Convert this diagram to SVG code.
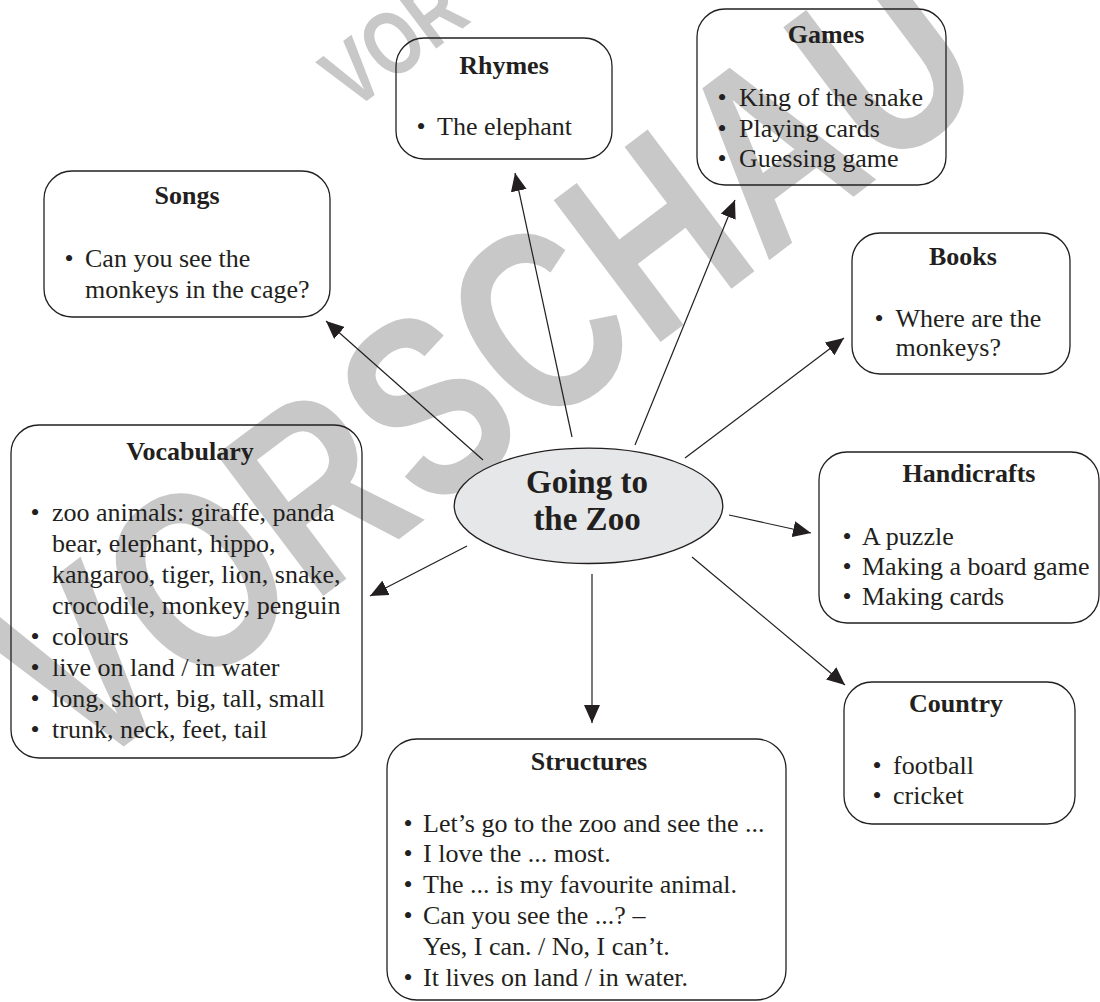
<svg xmlns="http://www.w3.org/2000/svg" width="1100" height="1002" viewBox="0 0 1100 1002">
<style>
.wm{font-family:"Liberation Sans",Arial,sans-serif;font-weight:bold;fill:#c8c8c8}
.box{fill:none;stroke:#231f20;stroke-width:1.3}
.h{font-family:"Liberation Serif","Times New Roman",serif;font-weight:bold;font-size:26px;fill:#231f20;text-anchor:middle}
.t{font-family:"Liberation Serif","Times New Roman",serif;font-size:26px;fill:#231f20}
.b{font-family:"Liberation Serif","Times New Roman",serif;font-size:26px;fill:#231f20;text-anchor:middle}
.c{font-family:"Liberation Serif","Times New Roman",serif;font-weight:bold;font-size:33px;fill:#231f20;text-anchor:middle}
.ln{stroke:#231f20;stroke-width:1.2;fill:none;marker-end:url(#ah)}
</style>
<defs>
<marker id="ah" viewBox="0 0 18 16" refX="18" refY="8" markerWidth="18" markerHeight="16" markerUnits="userSpaceOnUse" orient="auto">
<path d="M0,0 L18,8 L0,16 Z" fill="#231f20"/>
</marker>
</defs>
<rect width="1100" height="1002" fill="#ffffff"/>
<g id="watermark">
<text class="wm" font-size="258" transform="translate(82,778) rotate(-37) scale(0.775,1)">VORSCHAU</text>
<text class="wm" font-size="90" transform="translate(352,112) rotate(-37) scale(0.775,1)">VOR</text>
</g>
<g id="connectors">
<line class="ln" x1="483" y1="460" x2="326" y2="321"/>
<line class="ln" x1="572" y1="437" x2="515" y2="173"/>
<line class="ln" x1="635" y1="445" x2="735" y2="200"/>
<line class="ln" x1="685" y1="458" x2="844" y2="338"/>
<line class="ln" x1="729" y1="515" x2="811" y2="533"/>
<line class="ln" x1="692" y1="557" x2="845" y2="685"/>
<line class="ln" x1="592" y1="574" x2="592" y2="723"/>
<line class="ln" x1="467" y1="546" x2="370" y2="596"/>
</g>
<g id="center">
<ellipse cx="588.5" cy="505.8" rx="134.3" ry="57.7" fill="#e6e7e8" stroke="#231f20" stroke-width="1.3"/>
<text class="c" x="587" y="493">Going to</text>
<text class="c" x="587" y="530">the Zoo</text>
</g>
<g id="songs">
<rect class="box" x="44" y="171" width="286" height="146" rx="28"/>
<text class="h" x="187" y="204">Songs</text>
<text class="b" x="69" y="266.5">•</text><text class="t" x="85" y="266.5">Can you see the</text>
<text class="t" x="85" y="298">monkeys in the cage?</text>
</g>
<g id="rhymes">
<rect class="box" x="396" y="38" width="216" height="121" rx="28"/>
<text class="h" x="504" y="74">Rhymes</text>
<text class="b" x="421" y="135">•</text><text class="t" x="437" y="135">The elephant</text>
</g>
<g id="games">
<rect class="box" x="697" y="9" width="249" height="176" rx="28"/>
<text class="h" x="826" y="43">Games</text>
<text class="b" x="722" y="106">•</text><text class="t" x="739" y="106">King of the snake</text>
<text class="b" x="722" y="136.5">•</text><text class="t" x="739" y="136.5">Playing cards</text>
<text class="b" x="722" y="167">•</text><text class="t" x="739" y="167">Guessing game</text>
</g>
<g id="books">
<rect class="box" x="852" y="233" width="218" height="141" rx="28"/>
<text class="h" x="963" y="265">Books</text>
<text class="b" x="879" y="326.5">•</text><text class="t" x="895.5" y="326.5">Where are the</text>
<text class="t" x="895.5" y="356">monkeys?</text>
</g>
<g id="vocabulary">
<rect class="box" x="11" y="425" width="351" height="333" rx="28"/>
<text class="h" x="190" y="460">Vocabulary</text>
<text class="b" x="35" y="521">•</text><text class="t" x="52" y="521">zoo animals: giraffe, panda</text>
<text class="t" x="52" y="552">bear, elephant, hippo,</text>
<text class="t" x="52" y="583">kangaroo, tiger, lion, snake,</text>
<text class="t" x="52" y="614">crocodile, monkey, penguin</text>
<text class="b" x="35" y="645">•</text><text class="t" x="52" y="645">colours</text>
<text class="b" x="35" y="676">•</text><text class="t" x="52" y="676">live on land / in water</text>
<text class="b" x="35" y="707">•</text><text class="t" x="52" y="707">long, short, big, tall, small</text>
<text class="b" x="35" y="738">•</text><text class="t" x="52" y="738">trunk, neck, feet, tail</text>
</g>
<g id="handicrafts">
<rect class="box" x="819" y="452" width="280" height="171" rx="28"/>
<text class="h" x="969" y="482">Handicrafts</text>
<text class="b" x="847" y="545">•</text><text class="t" x="862" y="545">A puzzle</text>
<text class="b" x="847" y="575">•</text><text class="t" x="862" y="575">Making a board game</text>
<text class="b" x="847" y="605">•</text><text class="t" x="862" y="605">Making cards</text>
</g>
<g id="country">
<rect class="box" x="844" y="682" width="231" height="142" rx="28"/>
<text class="h" x="956" y="712">Country</text>
<text class="b" x="877" y="774">•</text><text class="t" x="893" y="774">football</text>
<text class="b" x="877" y="804">•</text><text class="t" x="893" y="804">cricket</text>
</g>
<g id="structures">
<rect class="box" x="387" y="739" width="399" height="261" rx="30"/>
<text class="h" x="589" y="770">Structures</text>
<text class="b" x="408" y="831.5">•</text><text class="t" x="423" y="831.5">Let’s go to the zoo and see the ...</text>
<text class="b" x="408" y="862">•</text><text class="t" x="423" y="862">I love the ... most.</text>
<text class="b" x="408" y="893">•</text><text class="t" x="423" y="893">The ... is my favourite animal.</text>
<text class="b" x="408" y="924">•</text><text class="t" x="423" y="924">Can you see the ...? –</text>
<text class="t" x="423" y="955">Yes, I can. / No, I can’t.</text>
<text class="b" x="408" y="985.5">•</text><text class="t" x="423" y="985.5">It lives on land / in water.</text>
</g>
</svg>
